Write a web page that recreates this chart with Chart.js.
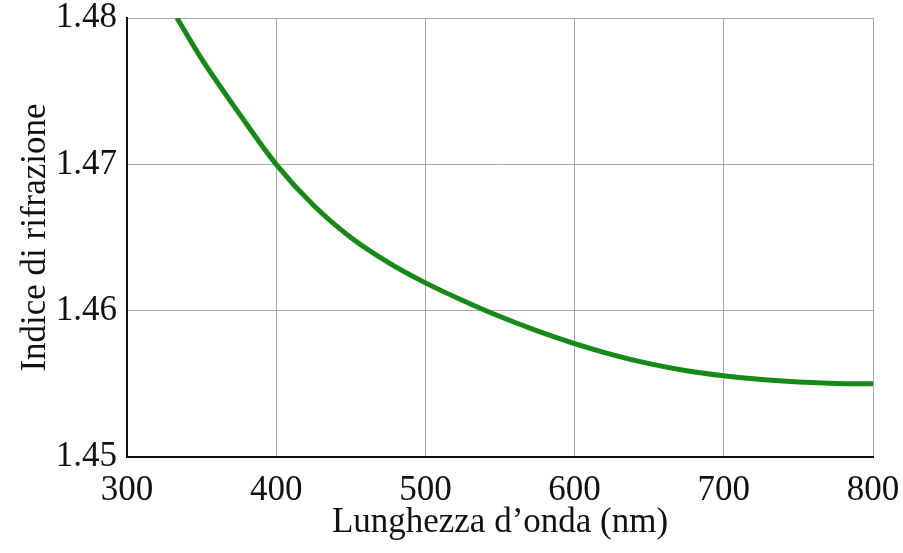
<!DOCTYPE html>
<html>
<head>
<meta charset="utf-8">
<script src="https://cdn.jsdelivr.net/npm/chart.js@4"></script>
<style>
  body { margin: 0; background: #fff; }
</style>
</head>
<body>
<canvas id="grafico" width="903" height="553"></canvas>
<script>
// lunghezze d'onda (nm) e indice di rifrazione
const lunghezze = [333.5, 350, 375, 400, 425, 450, 475, 500, 525, 550, 575, 600, 625, 650, 675, 700, 725, 750, 775, 800];
const indici = [1.4800, 1.4772, 1.4735, 1.4700, 1.4672, 1.4650, 1.4633, 1.4619, 1.4607, 1.4596, 1.45862, 1.45775, 1.45700, 1.45638, 1.45590, 1.45555, 1.45530, 1.45513, 1.45503, 1.45500];
const tickX = [300, 400, 500, 600, 700, 800];
const tickY = [1.45, 1.46, 1.47, 1.48];

const punti = lunghezze.map((l, i) => ({ x: l, y: indici[i] }));
const font = 'Liberation Serif';

const ctx = document.getElementById('grafico').getContext('2d');

new Chart(ctx, {
  type: 'line',
  data: {
    datasets: [{
      data: punti,
      borderColor: '#168a16',
      borderWidth: 5,
      pointRadius: 0,
      cubicInterpolationMode: 'monotone',
      fill: false,
    }],
  },
  options: {
    responsive: false,
    animation: false,
    layout: { padding: { top: 18, right: 30, left: 0, bottom: 0 } },
    plugins: { legend: { display: false }, tooltip: { enabled: false } },
    scales: {
      x: {
        type: 'linear',
        min: 300,
        max: 800,
        afterBuildTicks: (s) => { s.ticks = tickX.map(v => ({ value: v })); },
        afterFit: (s) => { s.height = 96; s.paddingLeft = 0; s.paddingRight = 0; },
        grid: { color: '#a8a8a8', lineWidth: 1, drawTicks: false },
        border: { color: '#111', width: 2 },
        ticks: { color: '#111', font: { family: font, size: 35 }, padding: 13, maxRotation: 0 },
        title: {
          display: true,
          text: 'Lunghezza d’onda (nm)',
          color: '#111',
          font: { family: font, size: 35 },
          padding: { top: 0, bottom: 9 },
        },
      },
      y: {
        min: 1.45,
        max: 1.48,
        afterBuildTicks: (s) => { s.ticks = tickY.map(v => ({ value: v })); },
        afterFit: (s) => { s.width = 127; s.paddingTop = 0; s.paddingBottom = 0; },
        grid: { color: '#a8a8a8', lineWidth: 1, drawTicks: false },
        border: { color: '#111', width: 2 },
        ticks: {
          color: '#111',
          font: { family: font, size: 35 },
          padding: 10,
          callback: (v) => v.toFixed(2),
        },
        title: {
          display: true,
          text: 'Indice di rifrazione',
          color: '#111',
          font: { family: font, size: 35 },
          padding: { top: 15, bottom: 0 },
        },
      },
    },
  },
});
</script>
</body>
</html>
